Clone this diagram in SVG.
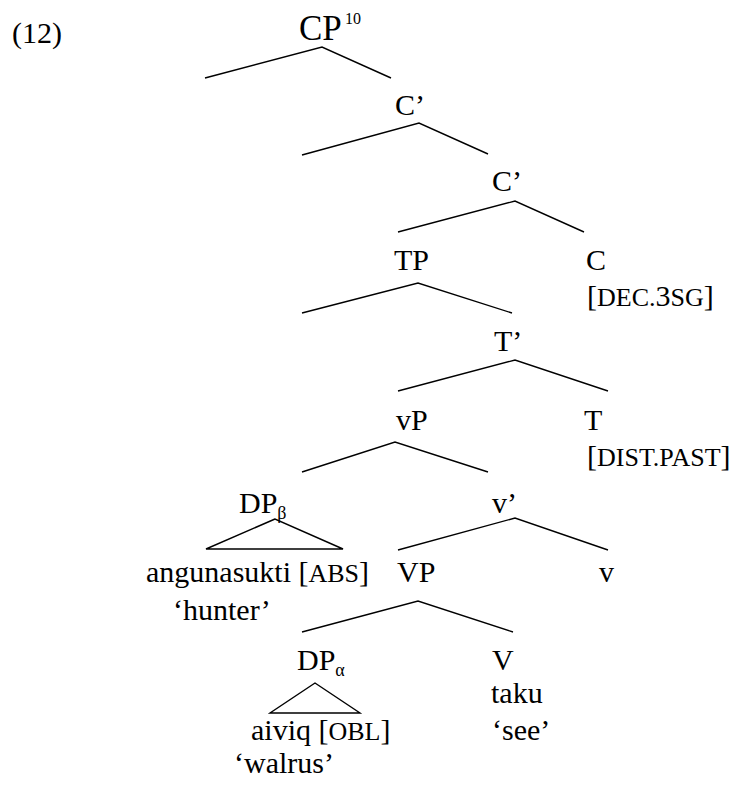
<svg xmlns="http://www.w3.org/2000/svg" width="733" height="790" viewBox="0 0 733 790">
  <style>
    text { font-family: "Liberation Serif", "Times New Roman", serif; font-size: 30px; fill: #000; }
    .root { font-size: 35px; }
    .sc { font-size: 26px; }
    .sup { font-size: 16px; }
    .sub { font-size: 18px; }
    .edge { stroke: #000; stroke-width: 1.4; fill: none; stroke-linecap: butt; }
  </style>
  <rect width="733" height="790" fill="#fff"/>

  <!-- example number -->
  <text id="label" x="12" y="43">(12)</text>

  <!-- branches -->
  <g id="connectors">
    <polyline class="edge" points="205,78 322,47 391,78"/>
    <polyline class="edge" points="302,155 419,123 488,154"/>
    <polyline class="edge" points="398,232 515,201 584,232"/>
    <polyline class="edge" points="302,313 418,283 512,313"/>
    <polyline class="edge" points="398,391 515,360 608,391"/>
    <polyline class="edge" points="302,472 395,442 488,472"/>
    <polygon class="edge" points="275,519 206,549 343,549"/>
    <polyline class="edge" points="398,550 515,518 608,550"/>
    <polyline class="edge" points="302,632 418,601 513,632"/>
    <polygon class="edge" points="315,683 270,713 360,713"/>
  </g>

  <g id="cp"><text class="root" x="299" y="40">CP<tspan class="sup" x="345" y="24">10</tspan></text></g>
  <g id="cbar1"><text x="395" y="115">C’</text></g>
  <g id="cbar2"><text x="492" y="191">C’</text></g>
  <g id="tp"><text x="394" y="270">TP</text></g>
  <g id="c">
    <text x="586" y="270">C</text>
    <text x="587" y="306">[<tspan class="sc">DEC.</tspan>3<tspan class="sc">SG</tspan>]</text>
  </g>
  <g id="tbar"><text x="494" y="351">T’</text></g>
  <g id="vp-small"><text x="396" y="430">vP</text></g>
  <g id="t">
    <text x="584" y="430">T</text>
    <text x="587" y="466">[<tspan class="sc">DIST.PAST</tspan>]</text>
  </g>
  <g id="dp-beta">
    <text x="239" y="513">DP<tspan class="sub" dy="6">β</tspan></text>
    <text x="146" y="582">angunasukti [<tspan class="sc">ABS</tspan>]</text>
    <text x="173" y="620">‘hunter’</text>
  </g>
  <g id="vbar"><text x="492" y="513">v’</text></g>
  <g id="vp-big"><text x="397" y="582">VP</text></g>
  <g id="v-small"><text x="599" y="582">v</text></g>
  <g id="dp-alpha">
    <text x="297" y="670">DP<tspan class="sub" dy="6">α</tspan></text>
    <text x="251" y="740">aiviq [<tspan class="sc">OBL</tspan>]</text>
    <text x="234" y="773">‘walrus’</text>
  </g>
  <g id="v-big">
    <text x="492" y="670">V</text>
    <text x="491" y="703">taku</text>
    <text x="492" y="740">‘see’</text>
  </g>
</svg>
